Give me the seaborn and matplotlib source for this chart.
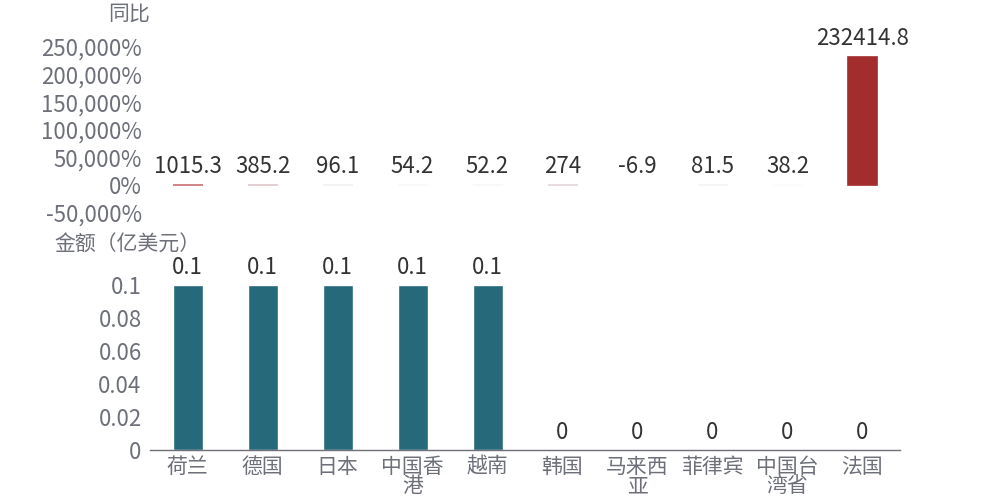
import numpy as np
import matplotlib as mpl
mpl.use('Agg')
import matplotlib.pyplot as plt
import seaborn as sns
from matplotlib.colors import LinearSegmentedColormap, LogNorm
from matplotlib.ticker import FuncFormatter

# data
regions = ['荷兰', '德国', '日本', '中国香港', '越南', '韩国', '马来西亚', '菲律宾', '中国台湾省', '法国']
amount = [0.1, 0.1, 0.1, 0.1, 0.1, 0, 0, 0, 0, 0]          # 亿美元
yoy = [1015.3, 385.2, 96.1, 54.2, 52.2, 274, -6.9, 81.5, 38.2, 232414.8]  # 同比 %
yoy_ticks = [-50000, 0, 50000, 100000, 150000, 200000, 250000]
amount_ticks = [0, 0.02, 0.04, 0.06, 0.08, 0.1]

sns.set_style('white')
plt.rcParams['font.family'] = ['Noto Sans CJK SC', 'DejaVu Sans']

TICK = '#6e7079'
LABEL = '#333333'
TEAL = '#26697a'
RED = '#a32c2d'
NUM = 16
CAT = 15


def wrap(s, n=3):
    return '\n'.join(s[i:i + n] for i in range(0, len(s), n))


fig = plt.figure(figsize=(10, 5), dpi=100)
ax1 = fig.add_axes([0.15, 0.574, 0.75, 0.332])
ax2 = fig.add_axes([0.15, 0.10, 0.75, 0.33])

# colour of the yoy bars follows the value (light -> dark red)
cmap = LinearSegmentedColormap.from_list(
    'yoy', [(0, '#ffffff'), (0.15, '#f2eeee'), (0.27, '#e2d0d4'), (0.39, '#c87070'), (1, RED)])
norm = LogNorm(vmin=30, vmax=max(yoy))
bar_cols = [cmap(norm(max(v, 1))) for v in yoy]

sns.barplot(x=regions, y=yoy, hue=regions, palette=bar_cols, legend=False,
            width=0.4, saturation=1, ax=ax1)
for p, c in zip(ax1.patches, bar_cols):
    p.set_edgecolor(c)
    p.set_linewidth(1.2)
ax1.set_ylim(-50000, 250000)
ax1.set_yticks(yoy_ticks)
ax1.yaxis.set_major_formatter(FuncFormatter(lambda v, _: f'{v:,.0f}%'))
ax1.set_xticks([])
for i, v in enumerate(yoy):
    ax1.annotate(str(v), (i, max(v, 0)), xytext=(0, 5), textcoords='offset points',
                 ha='center', va='bottom', fontsize=NUM, color=LABEL)
for s in ax1.spines.values():
    s.set_visible(False)
ax1.tick_params(axis='y', length=0, pad=6, labelsize=NUM, labelcolor=TICK)
ax1.set_xlim(-0.5, len(regions) - 0.5)

sns.barplot(x=regions, y=amount, color=TEAL, width=0.4, saturation=1, ax=ax2)
ax2.set_ylim(0, 0.1)
ax2.set_yticks(amount_ticks)
ax2.yaxis.set_major_formatter(FuncFormatter(lambda v, _: f'{v:g}'))
ax2.set_xticks(range(len(regions)))
ax2.set_xticklabels([wrap(r) for r in regions], linespacing=0.85)
for i, v in enumerate(amount):
    ax2.annotate(str(v), (i, v), xytext=(0, 4), textcoords='offset points',
                 ha='center', va='bottom', fontsize=NUM, color=LABEL)
for k in ['top', 'right', 'left']:
    ax2.spines[k].set_visible(False)
ax2.spines['bottom'].set_color(TICK)
ax2.spines['bottom'].set_linewidth(1)
ax2.tick_params(axis='y', length=0, pad=6, labelsize=NUM, labelcolor=TICK)
ax2.tick_params(axis='x', length=4, width=1, color=TICK, pad=0, labelsize=CAT, labelcolor=TICK)
ax2.set_xlim(-0.5, len(regions) - 0.5)
ax2.set_xlabel('')

fig.text(0.129, 0.972, '同比', ha='center', va='center', fontsize=CAT, color=TICK)
fig.text(0.127, 0.51, '金额（亿美元）', ha='center', va='center', fontsize=CAT, color=TICK)

fig.savefig('out.png', dpi=100)
